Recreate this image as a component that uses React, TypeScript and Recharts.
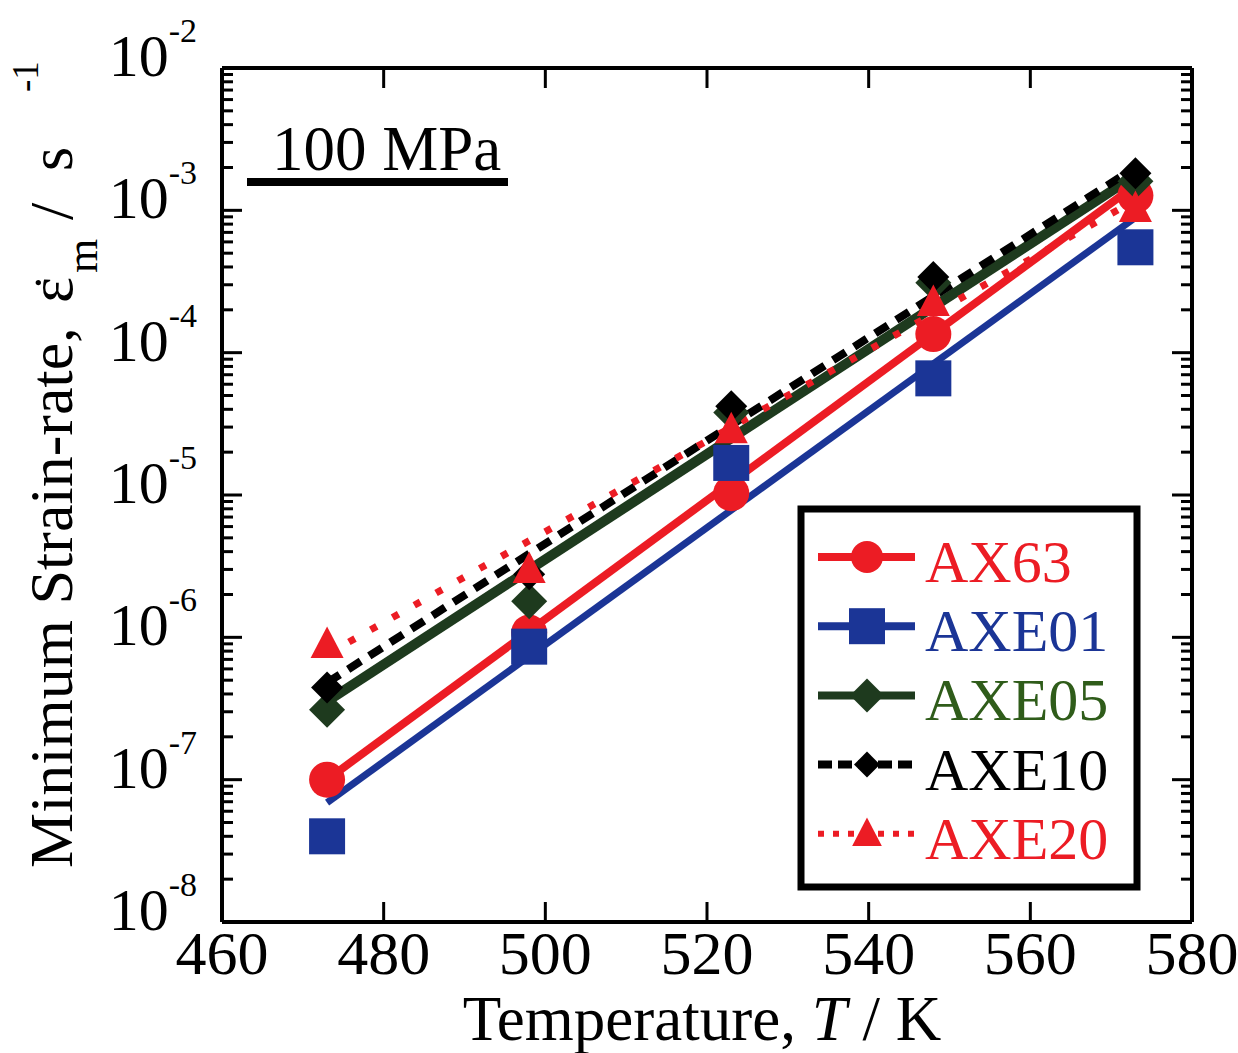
import React from "react";
import { ComposedChart, Line, Scatter, XAxis, YAxis } from "recharts";

// temperatures of the creep tests, K
const temps = [473, 498, 523, 548, 573];

// measured minimum strain-rates, 1/s
const ax63 = [1.0e-7, 1.08e-6, 1.03e-5, 1.35e-4, 1.27e-3];
const axe01 = [4.0e-8, 8.6e-7, 1.68e-5, 6.6e-5, 5.5e-4];
const axe05 = [3.1e-7, 1.79e-6, 3.8e-5, 3.1e-4, 1.6e-3];
const axe10 = [4.45e-7, 2.78e-6, 4.2e-5, 3.4e-4, 1.82e-3];
const axe20 = [8.9e-7, 3.0e-6, 2.87e-5, 2.25e-4, 1.03e-3];

// fitted lines (end points)
const fitT = [473, 573];
const fitAx63 = [1.0e-7, 1.5e-3];
const fitAxe01 = [6.9e-8, 8.9e-4];
const fitAxe05 = [3.55e-7, 1.76e-3];
const fitAxe10 = [4.8e-7, 2.0e-3];
const fitAxe20 = [7.6e-7, 1.18e-3];

const xTicks = [460, 480, 500, 520, 540, 560, 580];
const yDecades = [1e-8, 1e-7, 1e-6, 1e-5, 1e-4, 1e-3, 1e-2];
const yExpLabels = ["-8", "-7", "-6", "-5", "-4", "-3", "-2"];
const yMinor = yDecades.slice(0, -1).flatMap((d) => [2, 3, 4, 5, 6, 7, 8, 9].map((m) => m * d));

const W = 1238;
const H = 1053;
const PL = 222, PT = 68, PR = 1192, PB = 922;

const RED = "#ec1c24";
const BLUE = "#1b3596";
const GREEN = "#1e3a1e";
const GREEN_TXT = "#2f5c1a";
const FONT = "'Liberation Serif', 'Times New Roman', serif";

const pts = (xs: number[], ys: number[]) => xs.map((t, i) => ({ T: t, v: ys[i] }));

const isDecade = (v: number) => Math.abs(Math.log10(v) - Math.round(Math.log10(v))) < 1e-6;

const YTickLeft = (p: any) => {
  const v = p.payload.value;
  const major = isDecade(v);
  const idx = yDecades.findIndex((d) => Math.abs(Math.log10(d) - Math.log10(v)) < 1e-6);
  return (
    <g>
      <line x1={p.x} x2={p.x + (major ? 20 : 11)} y1={p.y} y2={p.y} stroke="#000" strokeWidth={3} />
      {major && (
        <text x={p.x - 25} y={p.y + 8} textAnchor="end" fontFamily={FONT} fontSize={60} fill="#000">
          10<tspan dy={-34} fontSize={34}>{yExpLabels[idx]}</tspan>
        </text>
      )}
    </g>
  );
};

const YTickRight = (p: any) => {
  const major = isDecade(p.payload.value);
  return <line x1={p.x} x2={p.x - (major ? 20 : 11)} y1={p.y} y2={p.y} stroke="#000" strokeWidth={3} />;
};

const XTickBottom = (p: any) => (
  <g>
    <line x1={p.x} x2={p.x} y1={p.y} y2={p.y - 20} stroke="#000" strokeWidth={3} />
    <text x={p.x} y={p.y + 52} textAnchor="middle" fontFamily={FONT} fontSize={62} fill="#000">
      {p.payload.value}
    </text>
  </g>
);

const XTickTop = (p: any) => <line x1={p.x} x2={p.x} y1={p.y} y2={p.y + 20} stroke="#000" strokeWidth={3} />;

const circleShape = (p: any) => <circle cx={p.cx} cy={p.cy} r={18} fill={RED} />;
const squareShape = (p: any) => <rect x={p.cx - 18} y={p.cy - 18} width={36} height={36} fill={BLUE} />;
const diamond = (cx: number, cy: number, r: number) => `M${cx},${cy - r}L${cx + r},${cy}L${cx},${cy + r}L${cx - r},${cy}Z`;
const greenShape = (p: any) => <path d={diamond(p.cx, p.cy, 18)} fill={GREEN} />;
const blackShape = (p: any) => <path d={diamond(p.cx, p.cy, 16)} fill="#000" />;
const tri = (cx: number, cy: number, s: number) =>
  `M${cx},${cy - s * 0.6}L${cx + s * 0.55},${cy + s * 0.45}L${cx - s * 0.55},${cy + s * 0.45}Z`;
const triShape = (p: any) => <path d={tri(p.cx, p.cy, 30)} fill={RED} />;

const legendRows = [
  { name: "AX63", color: RED, text: RED, dash: undefined as string | undefined, w: 8 },
  { name: "AXE01", color: BLUE, text: BLUE, dash: undefined, w: 8 },
  { name: "AXE05", color: GREEN, text: GREEN_TXT, dash: undefined, w: 8 },
  { name: "AXE10", color: "#000", text: "#000", dash: "14 6", w: 8 },
  { name: "AXE20", color: RED, text: RED, dash: "6 9", w: 6 },
];

function legendMarker(i: number, cx: number, cy: number) {
  if (i === 0) return <circle cx={cx} cy={cy} r={16} fill={RED} />;
  if (i === 1) return <rect x={cx - 18} y={cy - 18} width={36} height={36} fill={BLUE} />;
  if (i === 2) return <path d={diamond(cx, cy, 17)} fill={GREEN} />;
  if (i === 3) return <path d={diamond(cx, cy, 13)} fill="#000" />;
  return <path d={tri(cx, cy, 27)} fill={RED} />;
}

export default function App() {
  return (
    <div style={{ position: "absolute", left: 0, top: 0, width: W, height: H, background: "#fff" }}>
      <ComposedChart width={W} height={H} margin={{ top: PT - 10, right: W - PR - 10, bottom: H - PB - 50, left: PL - 100 }}>
        <XAxis
          xAxisId="b"
          dataKey="T"
          type="number"
          domain={[460, 580]}
          allowDataOverflow
          ticks={xTicks}
          interval={0}
          height={50}
          tickSize={0}
          tickMargin={0}
          tickLine={false}
          axisLine={{ stroke: "#000", strokeWidth: 4 }}
          tick={<XTickBottom />}
        />
        <XAxis
          xAxisId="t"
          orientation="top"
          dataKey="T"
          type="number"
          domain={[460, 580]}
          allowDataOverflow
          ticks={xTicks.slice(1, -1)}
          interval={0}
          height={10}
          tickSize={0}
          tickMargin={0}
          tickLine={false}
          axisLine={{ stroke: "#000", strokeWidth: 4 }}
          tick={<XTickTop />}
        />
        <YAxis
          yAxisId="l"
          dataKey="v"
          scale="log"
          domain={[1e-8, 1e-2]}
          allowDataOverflow
          ticks={[...yDecades, ...yMinor]}
          interval={0}
          width={100}
          tickSize={0}
          tickMargin={0}
          tickLine={false}
          axisLine={{ stroke: "#000", strokeWidth: 4 }}
          tick={<YTickLeft />}
        />
        <YAxis
          yAxisId="r"
          orientation="right"
          scale="log"
          domain={[1e-8, 1e-2]}
          allowDataOverflow
          ticks={[...yDecades, ...yMinor]}
          interval={0}
          width={10}
          tickSize={0}
          tickMargin={0}
          tickLine={false}
          axisLine={{ stroke: "#000", strokeWidth: 4 }}
          tick={<YTickRight />}
        />

        <Line xAxisId="b" yAxisId="l" data={pts(fitT, fitAxe05)} dataKey="v" stroke={GREEN} strokeWidth={10} dot={false} isAnimationActive={false} />
        <Line xAxisId="b" yAxisId="l" data={pts(fitT, fitAxe01)} dataKey="v" stroke={BLUE} strokeWidth={7} dot={false} isAnimationActive={false} />
        <Line xAxisId="b" yAxisId="l" data={pts(fitT, fitAx63)} dataKey="v" stroke={RED} strokeWidth={8} dot={false} isAnimationActive={false} />
        <Line xAxisId="b" yAxisId="l" data={pts(fitT, fitAxe10)} dataKey="v" stroke="#000" strokeWidth={8} strokeDasharray="15 10" dot={false} isAnimationActive={false} />
        <Line xAxisId="b" yAxisId="l" data={pts(fitT, fitAxe20)} dataKey="v" stroke={RED} strokeWidth={7} strokeDasharray="7 18" dot={false} isAnimationActive={false} />

        <Scatter xAxisId="b" yAxisId="l" data={pts(temps, ax63)} dataKey="v" shape={circleShape} isAnimationActive={false} />
        <Scatter xAxisId="b" yAxisId="l" data={pts(temps, axe01)} dataKey="v" shape={squareShape} isAnimationActive={false} />
        <Scatter xAxisId="b" yAxisId="l" data={pts(temps, axe05)} dataKey="v" shape={greenShape} isAnimationActive={false} />
        <Scatter xAxisId="b" yAxisId="l" data={pts(temps, axe10)} dataKey="v" shape={blackShape} isAnimationActive={false} />
        <Scatter xAxisId="b" yAxisId="l" data={pts(temps, axe20)} dataKey="v" shape={triShape} isAnimationActive={false} />
      </ComposedChart>

      <svg width={W} height={H} style={{ position: "absolute", left: 0, top: 0, pointerEvents: "none" }}>
        {/* axis titles */}
        <text x={702} y={1040} textAnchor="middle" fontFamily={FONT} fontSize={63} fill="#000">
          Temperature, <tspan fontStyle="italic">T</tspan> / K
        </text>
        <g transform="translate(72,868) rotate(-90)" fontFamily={FONT} fill="#000">
          <text x={0} y={0} fontSize={62}>Minimum Strain-rate,</text>
          <text x={565} y={0} fontSize={62}>ε</text>
          <text x={577} y={-3} fontSize={50}>˙</text>
          <text x={595} y={25} fontSize={44}>m</text>
          <text x={648} y={0} fontSize={62}>/</text>
          <text x={697} y={0} fontSize={62}>s</text>
          <text x={776} y={-34} fontSize={37}>-1</text>
        </g>

        {/* stress annotation */}
        <text x={272} y={170} fontFamily={FONT} fontSize={63} fill="#000">100 MPa</text>
        <rect x={247} y={178} width={261} height={8} fill="#000" />

        {/* legend */}
        <rect x={801} y={509} width={336} height={378} fill="#fff" stroke="#000" strokeWidth={7} />
        {legendRows.map((r, i) => {
          const cy = 557 + i * 69.2;
          return (
            <g key={r.name}>
              <line x1={818} x2={915} y1={cy} y2={cy} stroke={r.color} strokeWidth={r.w} strokeDasharray={r.dash} />
              {legendMarker(i, 867, cy)}
              <text x={925} y={cy + 25} fontFamily={FONT} fontSize={60} fill={r.text}>{r.name}</text>
            </g>
          );
        })}
      </svg>
    </div>
  );
}
